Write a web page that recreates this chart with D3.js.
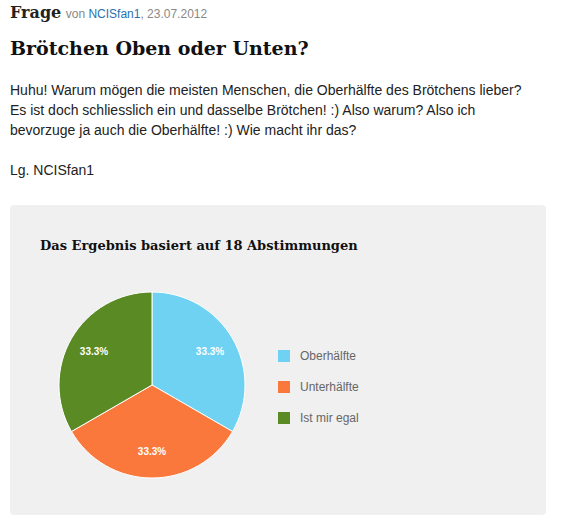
<!DOCTYPE html>
<html lang="de">
<head>
<meta charset="utf-8">
<script src="https://cdn.jsdelivr.net/npm/d3@7"></script>
<style>
  body { margin: 0; background: #fff; font-family: "Liberation Sans", Arial, sans-serif; }
  .serif { font-family: "DejaVu Serif", serif; font-weight: bold; }
  .head { position: absolute; left: 10px; top: 3px; }
  .head b { font-size: 16px; color: #222; }
  .head span { font-size: 12px; color: #888; }
  .head a { color: #2a6fb0; text-decoration: none; }
  h1 { position: absolute; left: 10px; top: 37px; margin: 0; font-size: 19px; color: #111; }
  p { position: absolute; left: 10px; margin: 0; font-size: 14px; line-height: 20px; color: #222; width: 525px; }
</style>
</head>
<body>
<div class="head"><b class="serif">Frage</b> <span>von <a>NCISfan1</a>, 23.07.2012</span></div>
<h1 class="serif">Brötchen Oben oder Unten?</h1>
<p style="top:80px">Huhu! Warum mögen die meisten Menschen, die Oberhälfte des Brötchens lieber? Es ist doch schliesslich ein und dasselbe Brötchen! :) Also warum? Also ich bevorzuge ja auch die Oberhälfte! :) Wie macht ihr das?</p>
<p style="top:160px">Lg. NCISfan1</p>
<svg id="c" width="584" height="532" style="position:absolute;left:0;top:0"></svg>
<script>
var categories = ["Oberhälfte", "Unterhälfte", "Ist mir egal"];
var votes = [6, 6, 6];
var colors = ["#6fd2f2", "#fb783c", "#5a8a24"];

var svg = d3.select("#c");
svg.append("rect").attr("x", 10).attr("y", 205).attr("width", 536).attr("height", 310)
  .attr("rx", 4).attr("fill", "#f0f0f0");
svg.append("text").attr("x", 40).attr("y", 250).attr("class", "serif")
  .attr("font-size", "13px").attr("fill", "#111")
  .text("Das Ergebnis basiert auf 18 Abstimmungen");

var total = d3.sum(votes);
var pie = d3.pie().sort(null)(votes);
var r = 93;
var arc = d3.arc().innerRadius(0).outerRadius(r);
var g = svg.append("g").attr("transform", "translate(152,385)");
g.selectAll("path").data(pie).enter().append("path")
  .attr("d", arc).attr("fill", function(d, i) { return colors[i]; })
  .attr("stroke", "#fff").attr("stroke-width", 1);
var lab = d3.arc().innerRadius(r * 0.72).outerRadius(r * 0.72);
g.selectAll("text").data(pie).enter().append("text")
  .attr("transform", function(d) { return "translate(" + lab.centroid(d) + ")"; })
  .attr("dy", "0.35em").attr("text-anchor", "middle")
  .attr("font-size", "10px").attr("font-weight", "bold").attr("fill", "#fff")
  .text(function(d) { return (d.value / total * 100).toFixed(1) + "%"; });

var leg = svg.selectAll(".leg").data(categories).enter().append("g")
  .attr("transform", function(d, i) { return "translate(278," + (350 + i * 31) + ")"; });
leg.append("rect").attr("width", 12).attr("height", 12)
  .attr("fill", function(d, i) { return colors[i]; });
leg.append("text").attr("x", 22).attr("y", 10).attr("font-size", "12px")
  .attr("fill", "#666").text(function(d) { return d; });
</script>
</body>
</html>
